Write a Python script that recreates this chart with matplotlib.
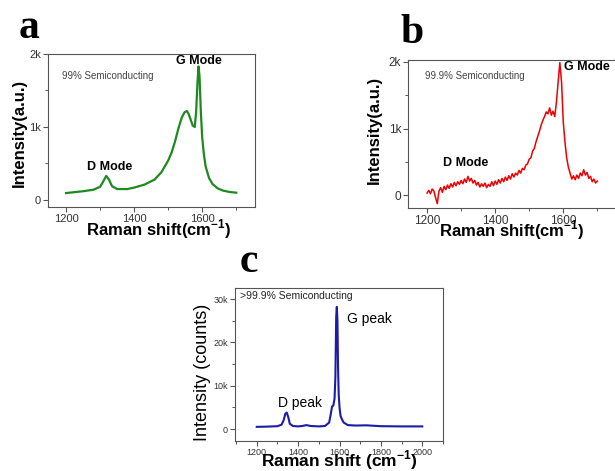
import numpy as np
import matplotlib
matplotlib.use('Agg')
import matplotlib.pyplot as plt
from matplotlib.ticker import MultipleLocator, FuncFormatter

plt.rcParams['font.family'] = ['Liberation Sans', 'DejaVu Sans']
plt.rcParams['mathtext.fontset'] = 'custom'
plt.rcParams['mathtext.rm'] = 'Liberation Sans'
plt.rcParams['mathtext.bf'] = 'Liberation Sans:bold'

# panel a: 99% semiconducting (green)
shift_a = [1200, 1220, 1250, 1280, 1300, 1310, 1318, 1326, 1335, 1350, 1380, 1400,
           1430, 1460, 1480, 1500, 1510, 1520, 1530, 1540, 1548, 1555, 1560, 1566,
           1572, 1578, 1582, 1586, 1589, 1592, 1596, 1600, 1605, 1610, 1620, 1630,
           1645, 1660, 1680, 1700]
inten_a = [95, 105, 120, 140, 180, 260, 330, 280, 190, 150, 150, 170,
           210, 280, 380, 540, 650, 800, 980, 1130, 1200, 1220, 1180, 1100,
           1020, 1000, 1200, 1600, 1830, 1700, 1200, 850, 620, 460, 300, 220,
           160, 130, 110, 100]

# panel b: 99.9% semiconducting (red, noisy), every 5 cm-1 from 1200 to 1700
shift_b = list(range(1200, 1701, 5))
inten_b = [30, 70, 20, 90, 60, -40, -130, 60, 110, 40,
           130, 80, 150, 100, 170, 120, 190, 140, 200, 160,
           220, 170, 240, 190, 280, 210, 250, 180, 220, 150,
           190, 120, 170, 130, 180, 110, 160, 130, 200, 140,
           210, 160, 230, 180, 250, 200, 270, 220, 290, 240,
           320, 270, 330, 300, 370, 330, 400, 380, 450, 470,
           540, 560, 660, 700, 800, 880, 960, 1050, 1120, 1180,
           1250, 1220, 1310, 1200, 1260, 1180, 1400, 1700, 1990, 1700,
           1100, 800, 560, 420, 330, 240, 290, 230, 300, 250,
           330, 290, 380, 300, 340, 250, 280, 200, 240, 180,
           210]

# panel c: >99.9% semiconducting (blue)
shift_c = [1200, 1250, 1300, 1320, 1330, 1338, 1345, 1352, 1360, 1375, 1400, 1420,
           1440, 1460, 1500, 1530, 1550, 1558, 1564, 1570, 1576, 1580, 1584, 1587,
           1590, 1593, 1596, 1600, 1605, 1612, 1620, 1640, 1680, 1730, 1800, 1900, 2000]
inten_c = [500, 550, 650, 1000, 2000, 3500, 3800, 2800, 1200, 700, 600, 700,
           900, 700, 600, 700, 1500, 3500, 5200, 5400, 7000, 12000, 26000, 28200,
           25000, 14000, 8000, 5000, 3000, 2200, 1500, 900, 800, 850, 650, 600, 600]

W, H = 615, 471
fig = plt.figure(figsize=(W / 100, H / 100), dpi=100)


def box(l, t, r, b):
    # pixel box -> figure fraction
    return [l / W, 1 - b / H, (r - l) / W, (b - t) / H]


def kfmt(v, pos):
    if abs(v) < 1e-9:
        return '0'
    return '%dk' % round(v / 1000)


def style(ax, tick_size):
    for s in ax.spines.values():
        s.set_color('#555555')
        s.set_linewidth(0.8)
    ax.tick_params(which='major', direction='out', length=3.5, width=0.8,
                   color='#555555', labelsize=tick_size, labelcolor='#333333', pad=1.5)
    ax.tick_params(which='minor', direction='out', length=2, width=0.7, color='#555555')
    ax.yaxis.set_major_formatter(FuncFormatter(kfmt))


def xlab(text, x, y, size):
    # x label placed by pixel baseline, like the reference
    fig.text(x / W, 1 - y / H, text, fontsize=size, fontweight='bold',
             ha='center', va='baseline')


# ---- a ----
ax_a = fig.add_axes(box(48, 54, 255, 207))
ax_a.plot(shift_a, inten_a, color='#1e8a1e', lw=1.6)
ax_a.set_xlim(1147, 1755)
ax_a.set_ylim(-96, 2000)
ax_a.xaxis.set_major_locator(MultipleLocator(200))
ax_a.xaxis.set_minor_locator(MultipleLocator(100))
ax_a.yaxis.set_major_locator(MultipleLocator(1000))
ax_a.yaxis.set_minor_locator(MultipleLocator(500))
style(ax_a, 8)
ax_a.text(0.068, 0.856, '99% Semiconducting', transform=ax_a.transAxes,
          fontsize=7, color='#444444', va='center')
ax_a.text(1591, 1904, 'G Mode', fontsize=9, fontweight='bold', ha='center', va='center')
ax_a.text(1329, 452, 'D Mode', fontsize=9, fontweight='bold', ha='center', va='center')
xlab(r'Raman shift(cm$^{\mathbf{-1}}$)', 159, 235, 12)
ax_a.text(-0.14, 0.484, 'Intensity(a.u.)', transform=ax_a.transAxes, rotation=90,
          fontsize=12, fontweight='bold', ha='center', va='center')

# ---- b ----
ax_b = fig.add_axes(box(408, 60, 615, 208))
ax_b.plot(shift_b, inten_b, color='#ee0000', lw=1.1)
ax_b.set_xlim(1144, 1752)
ax_b.set_ylim(-195, 2030)
ax_b.xaxis.set_major_locator(MultipleLocator(200))
ax_b.xaxis.set_minor_locator(MultipleLocator(100))
ax_b.yaxis.set_major_locator(MultipleLocator(1000))
ax_b.yaxis.set_minor_locator(MultipleLocator(500))
style(ax_b, 8.5)
ax_b.spines['right'].set_visible(False)
ax_b.text(0.082, 0.892, '99.9% Semiconducting', transform=ax_b.transAxes,
          fontsize=7, color='#444444', va='center')
ax_b.text(1668, 1925, 'G Mode', fontsize=9, fontweight='bold', ha='center', va='center')
ax_b.text(1312, 481, 'D Mode', fontsize=9, fontweight='bold', ha='center', va='center')
xlab(r'Raman shift(cm$^{\mathbf{-1}}$)', 512, 236, 12)
ax_b.text(-0.164, 0.527, 'Intensity(a.u.)', transform=ax_b.transAxes, rotation=90,
          fontsize=12, fontweight='bold', ha='center', va='center')

# ---- c ----
ax_c = fig.add_axes(box(235, 288, 443, 441))
ax_c.plot(shift_c, inten_c, color='#1c1ca8', lw=1.5)
ax_c.set_xlim(1095, 2100)
ax_c.set_ylim(-2770, 32560)
ax_c.xaxis.set_major_locator(MultipleLocator(200))
ax_c.xaxis.set_minor_locator(MultipleLocator(100))
ax_c.yaxis.set_major_locator(MultipleLocator(10000))
ax_c.yaxis.set_minor_locator(MultipleLocator(5000))
style(ax_c, 6.5)
ax_c.text(0.024, 0.948, '>99.9% Semiconducting', transform=ax_c.transAxes,
          fontsize=7.5, color='#222222', va='center')
ax_c.text(1745, 25400, 'G peak', fontsize=10, ha='center', va='center')
ax_c.text(1407, 6000, 'D peak', fontsize=10, ha='center', va='center')
xlab(r'Raman shift (cm$^{\mathbf{-1}}$)', 339, 466, 12.5)
ax_c.text(-0.154, 0.45, 'Intensity (counts)', transform=ax_c.transAxes, rotation=90,
          fontsize=13, ha='center', va='center')

# panel letters
for lab, x, y in [('a', 29, 38), ('b', 412, 43), ('c', 249, 272)]:
    fig.text(x / W, 1 - y / H, lab, family='Liberation Serif', fontweight='bold',
             fontsize=30, ha='center', va='baseline')

fig.savefig('out.png', dpi=100)
